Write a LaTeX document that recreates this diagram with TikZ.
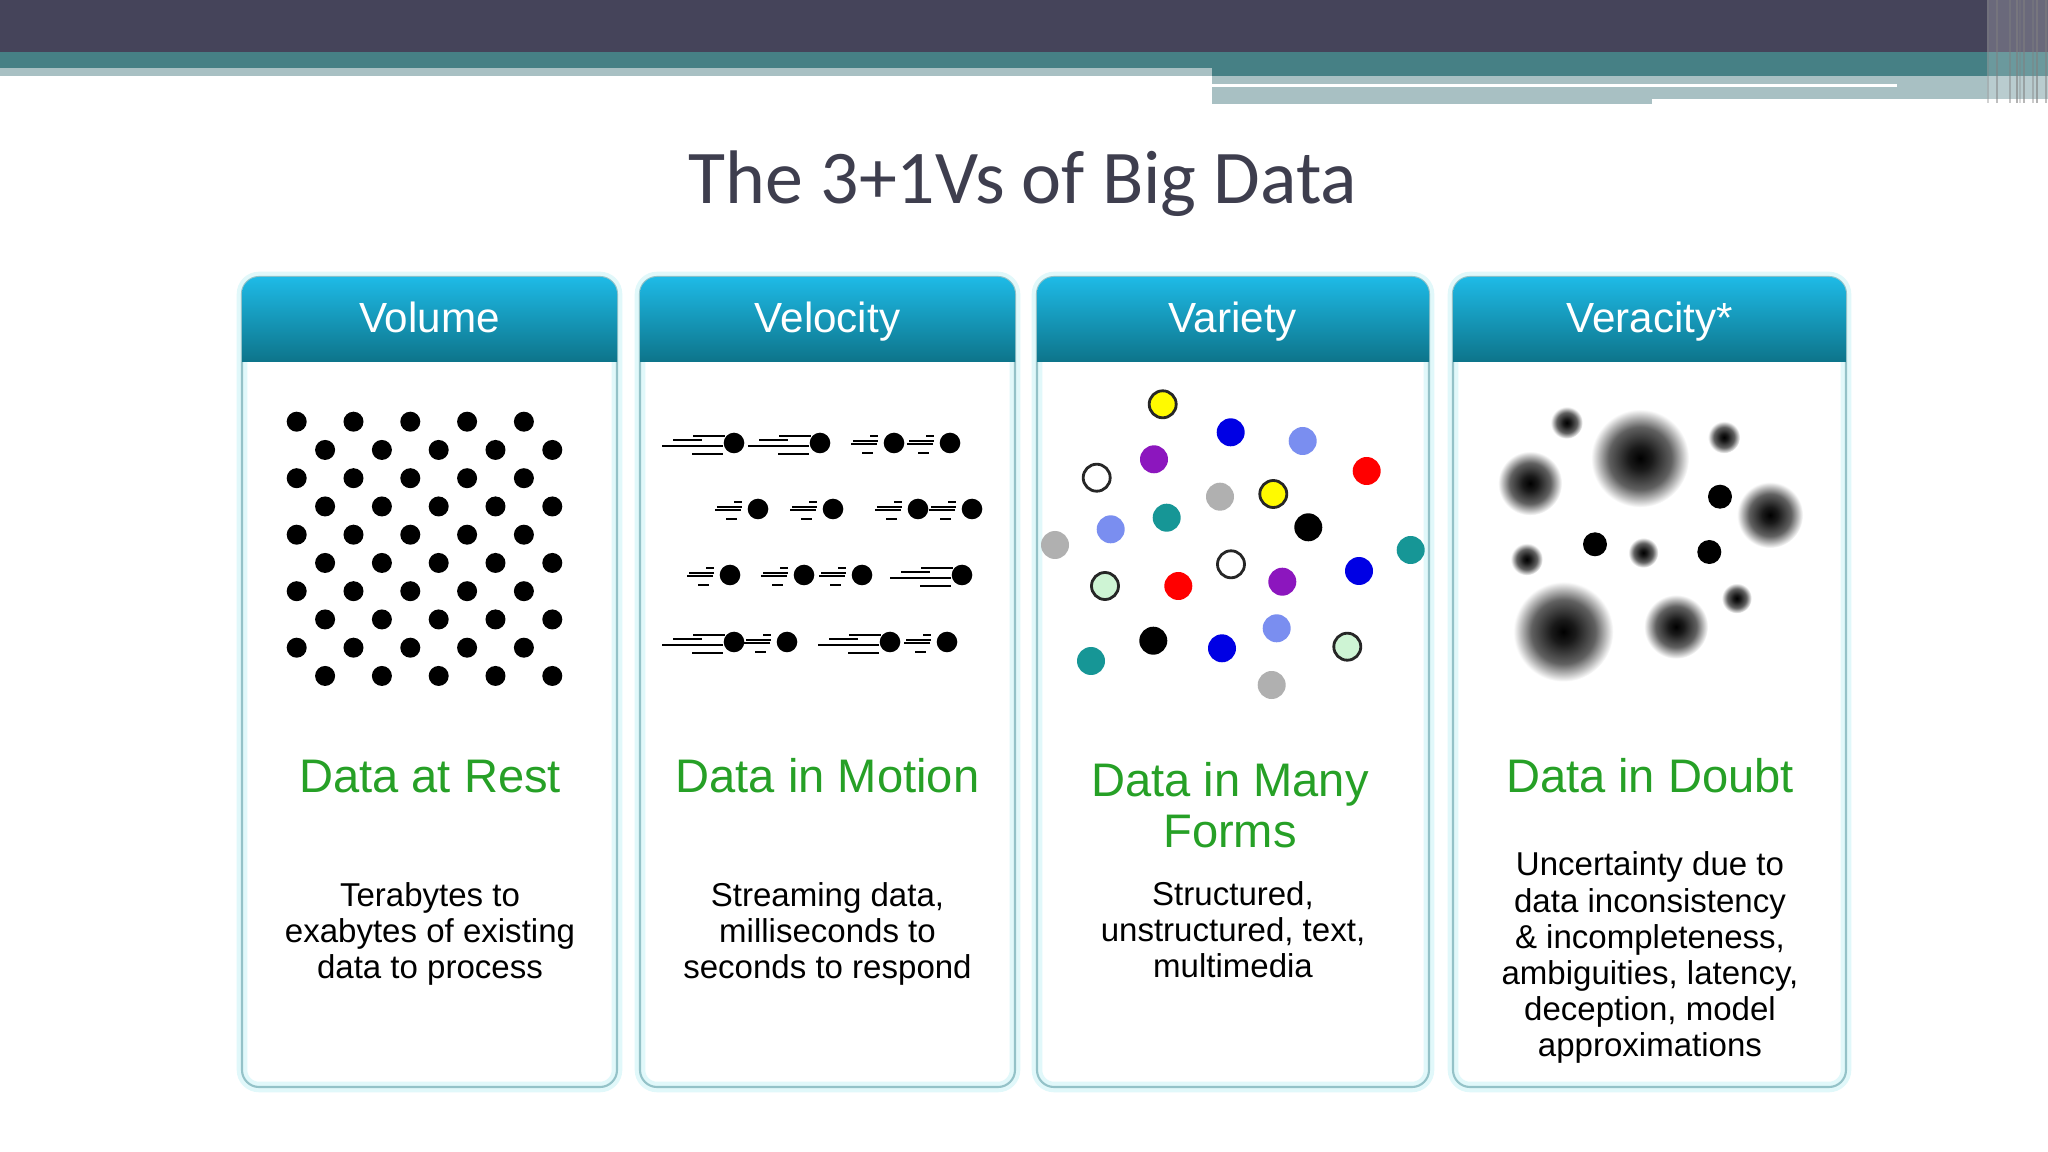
\documentclass[tikz,border=0pt]{standalone}
\usepackage{fontspec}
\setmainfont{Liberation Sans}
\newfontfamily\titlefont{Carlito}
\usetikzlibrary{positioning}
\usepackage{xcolor}
\definecolor{bardark}{RGB}{69,68,90}
\definecolor{barteal}{RGB}{70,128,133}
\definecolor{barlight}{RGB}{168,192,195}
\definecolor{titlegray}{RGB}{62,62,78}
\definecolor{hdtop}{RGB}{30,186,230}
\definecolor{hdbot}{RGB}{13,116,138}
\definecolor{cardline}{RGB}{148,194,200}
\definecolor{cardglow}{RGB}{225,248,250}
\definecolor{taggreen}{RGB}{38,160,38}
\definecolor{dyellow}{RGB}{255,250,0}
\definecolor{dblue}{RGB}{0,0,228}
\definecolor{dperi}{RGB}{122,142,240}
\definecolor{dpurple}{RGB}{140,22,190}
\definecolor{dred}{RGB}{255,0,0}
\definecolor{dgray}{RGB}{176,176,176}
\definecolor{dteal}{RGB}{22,150,150}
\definecolor{dmint}{RGB}{206,244,212}
\pgfdeclareradialshading{blurdot}{\pgfpoint{0bp}{0bp}}{%
  color(0bp)=(black); color(6bp)=(black!90); color(16bp)=(black!62);
  color(21bp)=(black!28); color(25bp)=(white); color(50bp)=(white)}
\tikzset{
  card/.style     = {draw=cardline, line width=0.6pt, rounded corners=0.17cm},
  hdtext/.style   = {font=\fontsize{12}{14}\selectfont, text=white},
  tagtext/.style  = {font=\fontsize{13.4}{14.5}\selectfont, text=taggreen, align=center},
  bodytext/.style = {font=\fontsize{9.4}{10.25}\selectfont, align=center, text=black},
  trail/.style    = {line width=0.55pt, draw=black}
}
% moving dots for the velocity card
\newcommand{\fastdot}[2]{%
  \begin{scope}[shift={(#1,#2)}]
    \draw[trail] (-0.41,0.073) -- (-0.09,0.073);
    \draw[trail] (-0.61,0.027) -- (-0.32,0.027);
    \draw[trail] (-0.72,-0.033) -- (-0.11,-0.033);
    \draw[trail] (-0.42,-0.11) -- (-0.11,-0.11);
    \fill (0,0) circle (0.103);
  \end{scope}
}
\newcommand{\slowdot}[2]{%
  \begin{scope}[shift={(#1,#2)}]
    \draw[trail] (-0.24,0.073) -- (-0.157,0.073);
    \draw[trail] (-0.41,0.017) -- (-0.16,0.017);
    \draw[trail] (-0.43,-0.012) -- (-0.17,-0.012);
    \draw[trail] (-0.32,-0.10) -- (-0.21,-0.10);
    \fill (0,0) circle (0.103);
  \end{scope}
}

\begin{document}
\begin{tikzpicture}
\fill[white] (0,0) rectangle (20.48,-11.52);
\useasboundingbox (0,0) rectangle (20.48,-11.52);
% top banner
\fill[bardark] (0,0) rectangle (20.48,-0.52);
\fill[barteal] (0,-0.52) rectangle (20.48,-0.677);
\fill[barteal] (12.12,-0.67) rectangle (20.48,-0.76);
\fill[barlight] (0,-0.677) rectangle (12.12,-0.76);
\fill[barlight] (12.12,-0.76) rectangle (20.48,-0.99);
\fill[barlight] (12.12,-0.99) rectangle (16.52,-1.04);
\fill[white] (12.12,-0.845) rectangle (18.97,-0.875);
\fill[white, opacity=0.2] (19.87,0) rectangle (20.48,-0.99);
\foreach \sx/\op in {19.88/0.35, 19.97/0.5, 20.10/0.45, 20.17/0.6, 20.20/0.3,
                     20.24/0.55, 20.33/0.4, 20.37/0.6, 20.46/0.5} {
  \draw[gray, opacity=\op, line width=0.8pt] (\sx,0) -- (\sx,-1.03);
}
\node[font=\titlefont\fontsize{21.6}{25}\selectfont, text=titlegray, anchor=base]
  (title) at (10.23,-2.04) {The 3+1Vs of Big Data};
% the four cards
\foreach \xa/\xb/\hd/\nm in {2.42/6.17/Volume/vol, 6.40/10.15/Velocity/vel,
                             10.37/14.29/Variety/var, 14.53/18.46/Veracity*/ver} {
  \draw[cardglow, line width=3pt, rounded corners=0.17cm] (\xa,-2.77) rectangle (\xb,-10.87);
  \draw[card] (\xa,-2.77) rectangle (\xb,-10.87);
  \begin{scope}
    \clip[rounded corners=0.17cm] (\xa,-2.77) rectangle (\xb,-10.87);
    \shade[top color=hdtop, bottom color=hdbot] (\xa,-2.77) rectangle (\xb,-3.62);
  \end{scope}
  \node[hdtext, anchor=base] (\nm-hd) at ({(\xa+\xb)/2},-3.32) {\hd};
}
% volume: dot grid
\foreach \r in {0,...,9} {
  \foreach \c in {0,...,4} {
    \fill ({2.967+0.568*\c+0.284*mod(\r,2)},{-4.217-0.2825*\r}) circle (0.10);
  }
}
% velocity: dots in motion
\fastdot{7.34}{-4.43} \fastdot{8.20}{-4.43} \slowdot{8.94}{-4.43} \slowdot{9.50}{-4.43}
\slowdot{7.58}{-5.09} \slowdot{8.33}{-5.09} \slowdot{9.18}{-5.09} \slowdot{9.72}{-5.09}
\slowdot{7.30}{-5.75} \slowdot{8.04}{-5.75} \slowdot{8.62}{-5.75} \fastdot{9.62}{-5.75}
\fastdot{7.34}{-6.42} \slowdot{7.87}{-6.42} \fastdot{8.90}{-6.42} \slowdot{9.47}{-6.42}
% variety: coloured dots
\foreach \px/\py/\col in {12.307/-4.323/dblue, 13.027/-4.41/dperi, 11.54/-4.593/dpurple,
  13.667/-4.71/dred, 12.20/-4.967/dgray, 11.667/-5.177/dteal, 11.107/-5.293/dperi,
  13.083/-5.273/black, 10.55/-5.45/dgray, 14.107/-5.50/dteal, 13.59/-5.71/dblue,
  11.783/-5.86/dred, 12.823/-5.817/dpurple, 12.767/-6.283/dperi, 11.533/-6.407/black,
  12.22/-6.483/dblue, 10.91/-6.61/dteal, 12.717/-6.85/dgray} {
  \fill[\col] (\px,\py) circle (0.14);
}
\foreach \px/\py/\col in {11.627/-4.043/dyellow, 12.733/-4.94/dyellow, 10.967/-4.777/white,
  12.31/-5.643/white, 11.05/-5.86/dmint, 13.473/-6.467/dmint} {
  \filldraw[fill=\col, draw=black!85, line width=0.8pt] (\px,\py) circle (0.135);
}
% veracity: blurred dots
\foreach \px/\py/\rad in {15.667/-4.227/0.16, 16.40/-4.583/0.49, 17.24/-4.373/0.16,
  15.30/-4.833/0.32, 17.70/-5.15/0.33, 16.433/-5.527/0.15, 15.267/-5.593/0.16,
  17.367/-5.983/0.15, 15.633/-6.317/0.50, 16.76/-6.267/0.32} {
  \shade[shading=blurdot] (\px,\py) circle (\rad);
}
\foreach \px/\py in {17.20/-4.967, 15.95/-5.443, 17.093/-5.52} {
  \fill (\px,\py) circle (0.12);
}
% captions
\node[tagtext, anchor=base] (vol-tag) at (4.30,-7.93) {Data at Rest};
\node[tagtext, anchor=base] (vel-tag) at (8.275,-7.93) {Data in Motion};
\node[tagtext] (var-tag) at (12.30,-8.05) {Data in Many\\Forms};
\node[tagtext, anchor=base] (ver-tag) at (16.50,-7.93) {Data in Doubt};
\node[bodytext] (vol-body) at (4.30,-9.335) {Terabytes to\\exabytes of existing\\data to process};
\node[bodytext] (vel-body) at (8.275,-9.335) {Streaming data,\\milliseconds to\\seconds to respond};
\node[bodytext] (var-body) at (12.33,-9.30) {Structured,\\unstructured, text,\\multimedia};
\node[bodytext] (ver-body) at (16.50,-9.575) {Uncertainty due to\\data inconsistency\\\& incompleteness,\\ambiguities, latency,\\deception, model\\approximations};
\end{tikzpicture}
\end{document}
